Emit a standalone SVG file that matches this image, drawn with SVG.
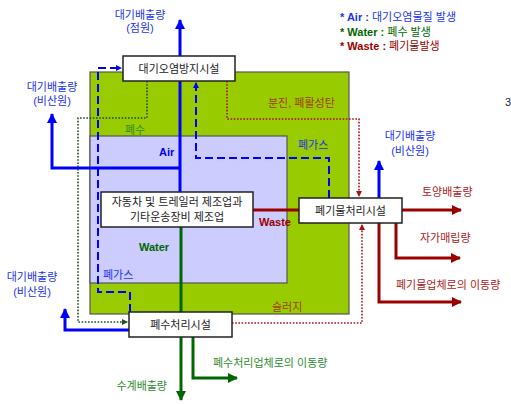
<svg xmlns="http://www.w3.org/2000/svg" width="511" height="404" viewBox="0 0 511 404">
<defs>
<style>
text{font-family:'Liberation Sans','Noto Sans CJK KR',sans-serif;font-size:11px}
.c{text-anchor:middle}
.b{font-weight:bold}
.blue{fill:#2233ee}
.grn{fill:#2e8b2e}
.red{fill:#aa2222}
.brn{fill:#a04010}
.box{fill:#fff;stroke:#222;stroke-width:1.5}
.thkB{stroke:#0000ff;stroke-width:3;fill:none}
.thkG{stroke:#006600;stroke-width:3;fill:none}
.thkR{stroke:#990000;stroke-width:3;fill:none}
.dashB{stroke:#0000ff;stroke-width:2;fill:none;stroke-dasharray:8 4}
.dotG{stroke:#1f4f1f;stroke-width:1.6;fill:none;stroke-dasharray:1.6 1.6}
.dotR{stroke:#aa1111;stroke-width:1.6;fill:none;stroke-dasharray:1.6 1.6}
</style>
<marker id="aB" markerUnits="userSpaceOnUse" markerWidth="10" markerHeight="10" refX="9" refY="5" orient="auto"><path d="M0,0 L10,5 L0,10 z" fill="#0000ff"/></marker>
<marker id="aG" markerUnits="userSpaceOnUse" markerWidth="10" markerHeight="10" refX="9" refY="5" orient="auto"><path d="M0,0 L10,5 L0,10 z" fill="#006600"/></marker>
<marker id="aR" markerUnits="userSpaceOnUse" markerWidth="10" markerHeight="10" refX="9" refY="5" orient="auto"><path d="M0,0 L10,5 L0,10 z" fill="#990000"/></marker>
<marker id="sB" markerUnits="userSpaceOnUse" markerWidth="6" markerHeight="6" refX="5" refY="3" orient="auto"><path d="M0,0 L6,3 L0,6 z" fill="#0000ff"/></marker>
<marker id="sG" markerUnits="userSpaceOnUse" markerWidth="6" markerHeight="6" refX="5" refY="3" orient="auto"><path d="M0,0 L6,3 L0,6 z" fill="#1f4f1f"/></marker>
<marker id="sR" markerUnits="userSpaceOnUse" markerWidth="6" markerHeight="6" refX="5" refY="3" orient="auto"><path d="M0,0 L6,3 L0,6 z" fill="#aa1111"/></marker>
</defs>
<rect width="511" height="404" fill="#fff"/>
<g id="site">
<rect x="90" y="72" width="259" height="242" fill="#99cc00" stroke="#555" stroke-width="1.2"/>
<rect x="90" y="136" width="197" height="147" fill="#ccccff" stroke="#555" stroke-width="1.2"/>
</g>
<g id="connectors">
<path class="thkB" d="M180,192 V20" marker-end="url(#aB)"/>
<path class="thkB" d="M180,168 H52 V114" marker-end="url(#aB)"/>
<path class="thkB" d="M129,330 H65 V309" marker-end="url(#aB)"/>
<path class="thkB" d="M379,198 V161" marker-end="url(#aB)"/>
<path class="dashB" d="M130,312 V292 H98 V68 H121" marker-end="url(#sB)"/>
<path class="dashB" d="M329,198 V158 H196 V83" marker-end="url(#sB)"/>
<path class="dotG" d="M147,81 V118 H78 V322 H127" marker-end="url(#sG)"/>
<path class="dotR" d="M227,81 V119 H359 V196" marker-end="url(#sR)"/>
<path class="dotR" d="M232,323 H362 V225" marker-end="url(#sR)"/>
<path class="thkG" d="M181,227 V400" marker-end="url(#aG)"/>
<path class="thkG" d="M193,337 V378 H237" marker-end="url(#aG)"/>
<path class="thkR" d="M253,210 H299"/>
<path class="thkR" d="M402,210 H461" marker-end="url(#aR)"/>
<path class="thkR" d="M396,223 V258 H460" marker-end="url(#aR)"/>
<path class="thkR" d="M379,223 V302 H461" marker-end="url(#aR)"/>
</g>
<g id="node-apc">
<rect class="box" x="123" y="56" width="112" height="25"/>
<text class="c" x="179" y="72.5" fill="#222">대기오염방지시설</text>
</g>
<g id="node-plant">
<rect class="box" x="101" y="192" width="152" height="35"/>
<text class="c" x="177" y="206" fill="#222">자동차 및 트레일러 제조업과</text>
<text class="c" x="177" y="221" fill="#222">기타운송장비 제조업</text>
</g>
<g id="node-waste">
<rect class="box" x="299" y="198" width="103" height="25"/>
<text class="c" x="350.5" y="214.5" fill="#222">폐기물처리시설</text>
</g>
<g id="node-water">
<rect class="box" x="129" y="312" width="103" height="25"/>
<text class="c" x="180.5" y="328.5" fill="#222">폐수처리시설</text>
</g>
<g id="labels">
<text class="c blue" x="140" y="19">대기배출량</text>
<text class="c blue" x="140" y="32">(점원)</text>
<text class="c blue" x="52" y="91">대기배출량</text>
<text class="c blue" x="52" y="105">(비산원)</text>
<text class="c blue" x="32" y="281">대기배출량</text>
<text class="c blue" x="32" y="296">(비산원)</text>
<text class="c blue" x="410" y="140">대기배출량</text>
<text class="c blue" x="410" y="155">(비산원)</text>
<text class="grn" x="125" y="134">폐수</text>
<text class="blue" x="298" y="149">폐가스</text>
<text class="blue" x="103" y="279">폐가스</text>
<text class="brn" x="268" y="107">분진, 폐활성탄</text>
<text class="brn" x="272" y="311">슬러지</text>
<text class="b" x="159" y="156" fill="#0000ee">Air</text>
<text class="b" x="139" y="251" fill="#006600">Water</text>
<text class="b" x="259" y="226" fill="#990000">Waste</text>
<text class="red" x="422" y="196">토양배출량</text>
<text class="red" x="420" y="242">자가매립량</text>
<text class="red" x="396" y="289">폐기물업체로의 이동량</text>
<text class="grn" x="213" y="367">폐수처리업체로의 이동량</text>
<text class="grn" x="167" y="390" text-anchor="end">수계배출량</text>
<text class="blue" x="340" y="21"><tspan class="b">* Air :</tspan> 대기오염물질 발생</text>
<text x="340" y="36" fill="#006600"><tspan class="b">* Water :</tspan> 폐수 발생</text>
<text x="340" y="50" fill="#990000"><tspan class="b">* Waste :</tspan> 폐기물발생</text>
<text x="505" y="106" font-size="14" fill="#222">3</text>
</g>
</svg>
